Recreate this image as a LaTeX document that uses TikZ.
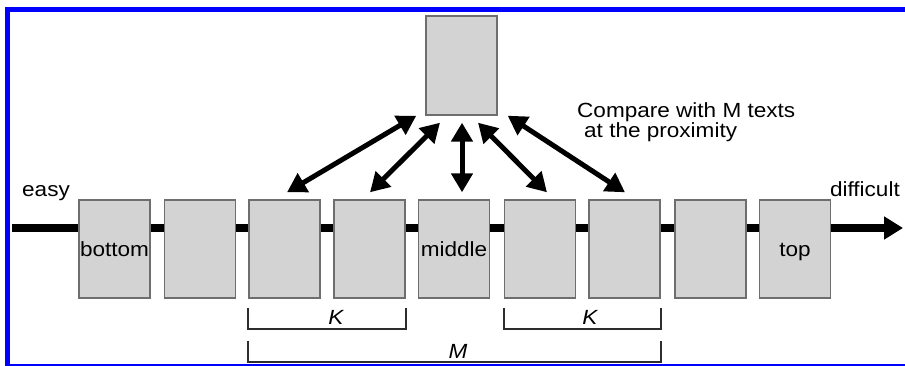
\documentclass[tikz,border=0pt]{standalone}
\usepackage{fontspec}
\setmainfont{Liberation Sans}[FakeStretch=1.1]
\usetikzlibrary{arrows.meta,calc}
\definecolor{boxfill}{RGB}{211,211,211}
\definecolor{boxline}{RGB}{110,110,110}
\definecolor{brk}{RGB}{45,45,45}
\definecolor{frameblue}{RGB}{0,0,255}
\begin{document}
\begin{tikzpicture}[x=1pt,y=-1pt,
  font=\fontsize{20.5}{24}\selectfont,
  slot/.style={draw=boxline,line width=1.4pt,fill=boxfill,minimum width=71pt,minimum height=98pt,inner sep=0pt,text height=16pt,text depth=0pt},
  axisline/.style={line width=7.5pt,-{Triangle[length=19pt,width=22pt]}},
  cmp/.style={line width=5pt,{Triangle[length=19pt,width=21pt]}-{Triangle[length=19pt,width=21pt]}},
  brack/.style={draw=brk,line width=1.8pt},
  lbl/.style={inner sep=0pt}]
\fill[white] (0,0) rectangle (905,366);
\useasboundingbox (0,0) rectangle (905,366);
% frame (open on the right)
\fill[frameblue] (5,7) rectangle (905,12);
\fill[frameblue] (5,7) rectangle (10,366);
\fill[frameblue] (5,364) rectangle (905,366);
% axis
\coordinate (axstart) at (12,228);
\coordinate (axend) at (903,228);
\draw[axisline] (axstart) -- (axend);
% boxes
\node[slot] (b1) at (114.5,249) {bottom};
\node[slot] (b2) at (200,249) {};
\node[slot] (b3) at (284.5,249) {};
\node[slot] (b4) at (369.5,249) {};
\node[slot] (b5) at (454,249) {middle};
\node[slot] (b6) at (540,249) {};
\node[slot] (b7) at (624.5,249) {};
\node[slot] (b8) at (710.5,249) {};
\node[slot] (b9) at (795,249) {top};
\node[slot,minimum height=99pt] (T) at (461.5,65.5) {};
% comparison arrows
\draw[cmp] ([shift={(-9,0)}]T.south west) -- ([shift={(2.5,-7)}]b3.north);
\draw[cmp] ([shift={(-21.5,7)}]T.south) -- ([shift={(0.5,-7)}]b4.north);
\draw[cmp] ([shift={(0.5,7)}]T.south) -- ([shift={(8,-7)}]b5.north);
\draw[cmp] ([shift={(16.5,7)}]T.south) -- ([shift={(7,-7)}]b6.north);
\draw[cmp] ([shift={(10,0)}]T.south east) -- ([shift={(0.5,-7)}]b7.north);
% labels
\node[lbl,anchor=base west] (easy) at (22,197) {easy};
\node[lbl,anchor=base east] (diff) at (900,197) {difficult};
\node[lbl,anchor=base west] (cmp1) at (577,118) {Compare with M texts};
\node[lbl,anchor=base west] (cmp2) at (584,138) {at the proximity};
% brackets
\draw[brack] ([yshift=-9pt]b3.south west) -- ++(0,21) -| ([yshift=-9pt]b4.south east);
\draw[brack] ([yshift=-9pt]b6.south west) -- ++(0,21) -| ([yshift=-9pt]b7.south east);
\draw[brack] ([yshift=-42pt]b3.south west) -- ++(0,21) -| ([yshift=-42pt]b7.south east);
\node[lbl,anchor=base] (k1) at (336,324) {\itshape K};
\node[lbl,anchor=base] (k2) at (590,324) {\itshape K};
\node[lbl,anchor=base] (m) at (458,358) {\itshape M};
\end{tikzpicture}
\end{document}
